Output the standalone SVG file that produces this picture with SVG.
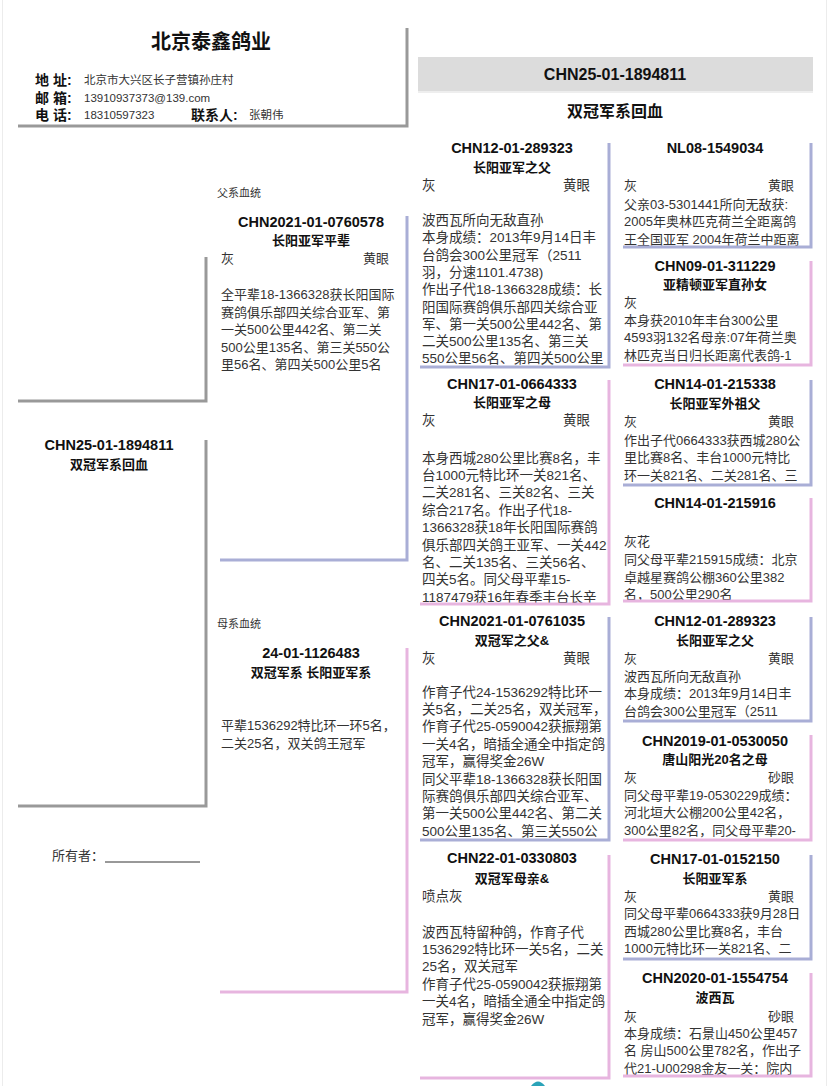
<svg xmlns="http://www.w3.org/2000/svg" width="828" height="1086" viewBox="0 0 828 1086">
<style>
text{font-family:"Liberation Sans","Noto Sans CJK SC",sans-serif;}
.h1{font-size:20px;font-weight:bold;fill:#111;text-anchor:middle}
.lab{font-size:14px;font-weight:bold;fill:#111}
.val{font-size:11.5px;fill:#333}
.band{font-size:16px;font-weight:bold;fill:#111;text-anchor:middle}
.ti{font-size:14.5px;font-weight:bold;fill:#111;text-anchor:middle}
.su{font-size:13px;font-weight:bold;fill:#111;text-anchor:middle}
.b{font-size:13px;fill:#333}
.b3{font-size:13.5px;fill:#333}
.r{text-anchor:end}
.sm{font-size:11px;fill:#333}
.gray{stroke:#999;stroke-width:3;fill:none}
.blue{stroke:#a9aed6;stroke-width:3;fill:none}
.pink{stroke:#e7b5df;stroke-width:3;fill:none}
.edge{stroke:#ececec;stroke-width:1;fill:none}
</style>
<rect x="0" y="0" width="828" height="1086" fill="#fff"/>
<line class="edge" x1="2.5" y1="0" x2="2.5" y2="1086"/>
<line class="edge" x1="826.5" y1="0" x2="826.5" y2="1086"/>

<g id="header">
<text class="h1" x="211" y="48.5">北京泰鑫鸽业</text>
<text class="lab" x="35" y="85">地 址:</text>
<text class="val" x="84" y="84">北京市大兴区长子营镇孙庄村</text>
<text class="lab" x="35" y="102.5">邮 箱:</text>
<text class="val" x="84" y="101.5">13910937373@139.com</text>
<text class="lab" x="35" y="120">电 话:</text>
<text class="val" x="84" y="119">18310597323</text>
<text class="lab" x="191" y="120">联系人:</text>
<text class="val" x="249" y="119">张朝伟</text>
<polyline class="gray" points="407,28 407,126 18,126"/>
</g>

<g id="banner">
<rect x="418" y="57" width="395" height="34" fill="#dcdcdc"/>
<line x1="418" y1="92" x2="813" y2="92" stroke="#eeeeee" stroke-width="2"/>
<text class="band" x="615" y="79.5">CHN25-01-1894811</text>
<text class="band" x="615" y="117">双冠军系回血</text>
</g>

<g id="connectors">
<polyline class="gray" points="206,257 206,401 18,401"/>
</g>

<g id="subject">
<text class="ti" x="109" y="450">CHN25-01-1894811</text>
<text class="su" x="109" y="468.5">双冠军系回血</text>
<polyline class="gray" points="206,440 206,806 18,806"/>
</g>

<g id="sire">
<text class="sm" x="217" y="196.5">父系血统</text>
<text class="ti" x="311" y="226.7">CHN2021-01-0760578</text>
<text class="su" x="311" y="245">长阳亚军平辈</text>
<text class="b" x="221" y="263.3">灰</text>
<text class="b r" x="389" y="263.3">黄眼</text>
<text class="b" y="299"><tspan x="221">全平辈18-1366328获长阳国际</tspan><tspan x="221" dy="17.5">赛鸽俱乐部四关综合亚军、第</tspan><tspan x="221" dy="17.5">一关500公里442名、第二关</tspan><tspan x="221" dy="17.5">500公里135名、第三关550公</tspan><tspan x="221" dy="17.5">里56名、第四关500公里5名</tspan></text>
<polyline class="blue" points="407,216 407,560 220,560"/>
</g>

<g id="dam">
<text class="sm" x="217" y="628">母系血统</text>
<text class="ti" x="311" y="658.3">24-01-1126483</text>
<text class="su" x="311" y="676.7">双冠军系 长阳亚军系</text>
<text class="b" y="730"><tspan x="221">平辈1536292特比环一环5名，</tspan><tspan x="221" dy="17.7">二关25名，双关鸽王冠军</tspan></text>
<polyline class="pink" points="407,648 407,992 220,992"/>
</g>

<g id="owner">
<text class="b" x="52" y="860">所有者：</text>
<line x1="105" y1="862" x2="200" y2="862" stroke="#333" stroke-width="1"/>
</g>

<g id="ss">
<text class="ti" x="512" y="153">CHN12-01-289323</text>
<text class="su" x="512" y="172">长阳亚军之父</text>
<text class="b3" x="422" y="190">灰</text>
<text class="b3 r" x="590" y="190">黄眼</text>
<text class="b3" y="225"><tspan x="422">波西瓦所向无敌直孙</tspan><tspan x="422" dy="17.3">本身成绩：2013年9月14日丰</tspan><tspan x="422" dy="17.3">台鸽会300公里冠军（2511</tspan><tspan x="422" dy="17.3">羽，分速1101.4738)</tspan><tspan x="422" dy="17.3">作出子代18-1366328成绩：长</tspan><tspan x="422" dy="17.3">阳国际赛鸽俱乐部四关综合亚</tspan><tspan x="422" dy="17.3">军、第一关500公里442名、第</tspan><tspan x="422" dy="17.3">二关500公里135名、第三关</tspan><tspan x="422" dy="17.3">550公里56名、第四关500公里</tspan></text>
<polyline class="blue" points="609,143 609,367 420,367"/>
</g>

<g id="sd">
<text class="ti" x="512" y="389">CHN17-01-0664333</text>
<text class="su" x="512" y="407">长阳亚军之母</text>
<text class="b3" x="422" y="425">灰</text>
<text class="b3 r" x="590" y="425">黄眼</text>
<text class="b3" y="462.5"><tspan x="422">本身西城280公里比赛8名，丰</tspan><tspan x="422" dy="17.4">台1000元特比环一关821名、</tspan><tspan x="422" dy="17.4">二关281名、三关82名、三关</tspan><tspan x="422" dy="17.4">综合217名。作出子代18-</tspan><tspan x="422" dy="17.4">1366328获18年长阳国际赛鸽</tspan><tspan x="422" dy="17.4">俱乐部四关鸽王亚军、一关442</tspan><tspan x="422" dy="17.4">名、二关135名、三关56名、</tspan><tspan x="422" dy="17.4">四关5名。同父母平辈15-</tspan><tspan x="422" dy="17.4">1187479获16年春季丰台长辛</tspan></text>
<polyline class="pink" points="609,380 609,604 420,604"/>
</g>

<g id="ds">
<text class="ti" x="512" y="626">CHN2021-01-0761035</text>
<text class="su" x="512" y="645">双冠军之父&amp;</text>
<text class="b3" x="422" y="663">灰</text>
<text class="b3 r" x="590" y="663">黄眼</text>
<text class="b3" y="696.5"><tspan x="422">作育子代24-1536292特比环一</tspan><tspan x="422" dy="17.4">关5名，二关25名，双关冠军，</tspan><tspan x="422" dy="17.4">作育子代25-0590042获振翔第</tspan><tspan x="422" dy="17.4">一关4名，暗插全通全中指定鸽</tspan><tspan x="422" dy="17.4">冠军，赢得奖金26W</tspan><tspan x="422" dy="17.4">同父平辈18-1366328获长阳国</tspan><tspan x="422" dy="17.4">际赛鸽俱乐部四关综合亚军、</tspan><tspan x="422" dy="17.4">第一关500公里442名、第二关</tspan><tspan x="422" dy="17.4">500公里135名、第三关550公</tspan></text>
<polyline class="blue" points="609,617 609,840 420,840"/>
</g>

<g id="dd">
<text class="ti" x="512" y="863">CHN22-01-0330803</text>
<text class="su" x="512" y="882.5">双冠军母亲&amp;</text>
<text class="b3" x="422" y="901">喷点灰</text>
<text class="b3" y="936.5"><tspan x="422">波西瓦特留种鸽，作育子代</tspan><tspan x="422" dy="17.4">1536292特比环一关5名，二关</tspan><tspan x="422" dy="17.4">25名，双关冠军</tspan><tspan x="422" dy="17.4">作育子代25-0590042获振翔第</tspan><tspan x="422" dy="17.4">一关4名，暗插全通全中指定鸽</tspan><tspan x="422" dy="17.4">冠军，赢得奖金26W</tspan></text>
<polyline class="pink" points="609,855 609,1078 420,1078"/>
</g>

<g id="sss">
<text class="ti" x="715" y="153">NL08-1549034</text>
<text class="b" x="624" y="190">灰</text>
<text class="b r" x="794" y="190">黄眼</text>
<text class="b" y="209"><tspan x="624">父亲03-5301441所向无敌获:</tspan><tspan x="624" dy="17.3">2005年奥林匹克荷兰全距离鸽</tspan><tspan x="624" dy="17.3">王全国亚军 2004年荷兰中距离</tspan></text>
<polyline class="blue" points="811,143 811,247 623,247"/>
</g>

<g id="ssd">
<text class="ti" x="715" y="270.7">CHN09-01-311229</text>
<text class="su" x="715" y="289.3">亚精顿亚军直孙女</text>
<text class="b" x="624" y="307.3">灰</text>
<text class="b" y="325"><tspan x="624">本身获2010年丰台300公里</tspan><tspan x="624" dy="17.4">4593羽132名母亲:07年荷兰奥</tspan><tspan x="624" dy="17.4">林匹克当日归长距离代表鸽-1</tspan></text>
<polyline class="pink" points="811,261 811,365 623,365"/>
</g>

<g id="sds">
<text class="ti" x="715" y="389">CHN14-01-215338</text>
<text class="su" x="715" y="407.7">长阳亚军外祖父</text>
<text class="b" x="624" y="425.7">灰</text>
<text class="b r" x="794" y="425.7">黄眼</text>
<text class="b" y="445"><tspan x="624">作出子代0664333获西城280公</tspan><tspan x="624" dy="17.4">里比赛8名、丰台1000元特比</tspan><tspan x="624" dy="17.4">环一关821名、二关281名、三</tspan></text>
<polyline class="blue" points="811,380 811,485 623,485"/>
</g>

<g id="sdd">
<text class="ti" x="715" y="508.3">CHN14-01-215916</text>
<text class="b" x="624" y="546">灰花</text>
<text class="b" y="564.3"><tspan x="624">同父母平辈215915成绩：北京</tspan><tspan x="624" dy="17.4">卓越星赛鸽公棚360公里382</tspan><tspan x="624" dy="17.4">名，500公里290名</tspan></text>
<polyline class="pink" points="811,498 811,601 623,601"/>
</g>

<g id="dss">
<text class="ti" x="715" y="626">CHN12-01-289323</text>
<text class="su" x="715" y="645">长阳亚军之父</text>
<text class="b" x="624" y="663.3">灰</text>
<text class="b r" x="794" y="663.3">黄眼</text>
<text class="b" y="680.7"><tspan x="624">波西瓦所向无敌直孙</tspan><tspan x="624" dy="17.4">本身成绩：2013年9月14日丰</tspan><tspan x="624" dy="17.4">台鸽会300公里冠军（2511</tspan></text>
<polyline class="blue" points="811,617 811,721 623,721"/>
</g>

<g id="dsd">
<text class="ti" x="715" y="746">CHN2019-01-0530050</text>
<text class="su" x="715" y="764">唐山阳光20名之母</text>
<text class="b" x="624" y="782.3">灰</text>
<text class="b r" x="794" y="782.3">砂眼</text>
<text class="b" y="800"><tspan x="624">同父母平辈19-0530229成绩：</tspan><tspan x="624" dy="17.4">河北垣大公棚200公里42名，</tspan><tspan x="624" dy="17.4">300公里82名，同父母平辈20-</tspan></text>
<polyline class="pink" points="811,735 811,840 623,840"/>
</g>

<g id="dds">
<text class="ti" x="715" y="864">CHN17-01-0152150</text>
<text class="su" x="715" y="882.7">长阳亚军系</text>
<text class="b" x="624" y="900.7">灰</text>
<text class="b r" x="794" y="900.7">黄眼</text>
<text class="b" y="918.3"><tspan x="624">同父母平辈0664333获9月28日</tspan><tspan x="624" dy="17.4">西城280公里比赛8名，丰台</tspan><tspan x="624" dy="17.4">1000元特比环一关821名、二</tspan></text>
<polyline class="blue" points="811,855 811,959 623,959"/>
</g>

<g id="ddd">
<text class="ti" x="715" y="983.3">CHN2020-01-1554754</text>
<text class="su" x="715" y="1001.7">波西瓦</text>
<text class="b" x="624" y="1020.7">灰</text>
<text class="b r" x="794" y="1020.7">砂眼</text>
<text class="b" y="1038"><tspan x="624">本身成绩：石景山450公里457</tspan><tspan x="624" dy="17.4">名 房山500公里782名，作出子</tspan><tspan x="624" dy="17.4">代21-U00298金友一关：院内</tspan></text>
<polyline class="pink" points="811,973 811,1076 623,1076"/>
</g>

<path d="M531,1086 Q538,1077 545,1086 Z" fill="#2aa3b8"/>
</svg>
